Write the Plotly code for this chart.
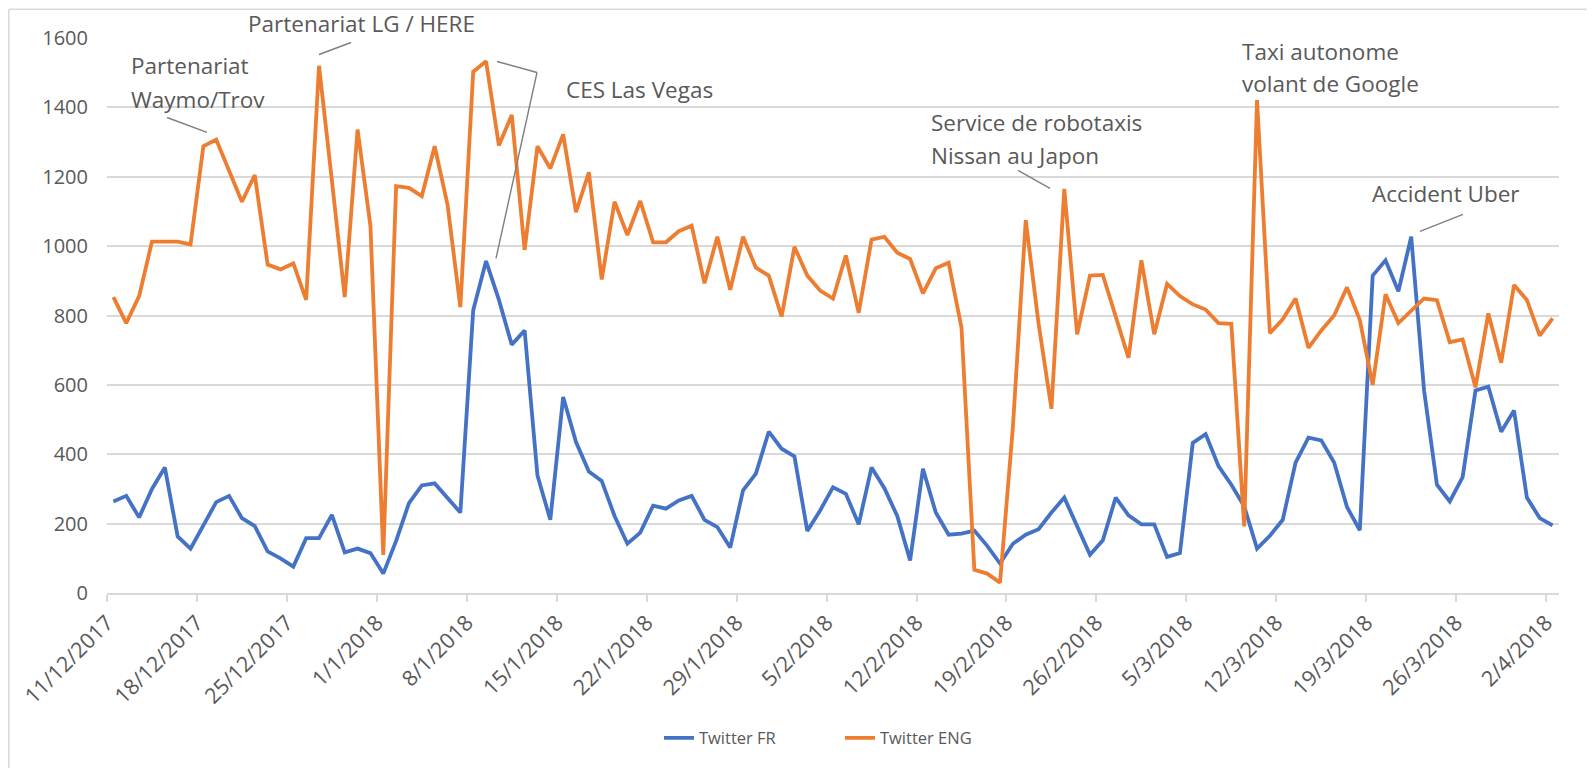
import pandas as pd
import plotly.graph_objects as go

# ---- data -------------------------------------------------------------
start_date = "2017-12-11 12:00"
n_days = 113
dates = pd.date_range(start_date, periods=n_days, freq="D")

twitter_fr = [
    264, 280, 218, 300, 362, 163, 128, 195, 262, 280,
    216, 193, 120, 100, 76, 158, 158, 225, 117, 128,
    115, 56, 150, 259, 310, 316, 272, 232, 815, 957,
    845, 716, 757, 339, 211, 565, 435, 350, 323, 222,
    142, 174, 252, 243, 267, 280, 211, 190, 131, 296,
    344, 465, 416, 394, 179, 238, 305, 286, 198, 362,
    302, 222, 94, 358, 232, 168, 171, 180, 136, 85,
    142, 168, 184, 232, 275, 195, 110, 152, 275, 224,
    198, 198, 104, 115, 433, 458, 366, 312, 250, 128,
    165, 211, 376, 448, 440, 376, 248, 181, 915, 959,
    870, 1027, 584, 312, 264, 334, 584, 595, 465, 526,
    275, 216, 195,
]

twitter_eng = [
    853, 778, 856, 1013, 1013, 1013, 1005, 1288, 1307, 1219,
    1128, 1205, 947, 933, 950, 845, 1520, 1190, 853, 1336,
    1059, 110, 1173, 1168, 1144, 1288, 1120, 824, 1503, 1533,
    1290, 1378, 989, 1288, 1224, 1322, 1098, 1213, 904, 1128,
    1032, 1130, 1011, 1011, 1043, 1059, 893, 1027, 874, 1027,
    938, 915, 797, 998, 915, 872, 849, 973, 808, 1019,
    1027, 981, 963, 864, 936, 952, 765, 67, 56, 30,
    478, 1075, 776, 531, 1165, 746, 915, 917, 797, 678,
    959, 746, 891, 856, 832, 817, 778, 776, 192, 1421,
    749, 789, 849, 707, 757, 800, 881, 787, 600, 861,
    778, 813, 849, 844, 723, 731, 593, 806, 664, 888,
    845, 742, 792,
]

tick_dates = [
    "2017-12-11", "2017-12-18", "2017-12-25", "2018-01-01", "2018-01-08",
    "2018-01-15", "2018-01-22", "2018-01-29", "2018-02-05", "2018-02-12",
    "2018-02-19", "2018-02-26", "2018-03-05", "2018-03-12", "2018-03-19",
    "2018-03-26", "2018-04-02",
]
tick_labels = [
    "11/12/2017", "18/12/2017", "25/12/2017", "1/1/2018", "8/1/2018",
    "15/1/2018", "22/1/2018", "29/1/2018", "5/2/2018", "12/2/2018",
    "19/2/2018", "26/2/2018", "5/3/2018", "12/3/2018", "19/3/2018",
    "26/3/2018", "2/4/2018",
]
y_ticks = [0, 200, 400, 600, 800, 1000, 1200, 1400, 1600]

# ---- layout geometry (page pixels; the figure sits at page offset 8,8) --
OFF = 8
WF, HF = 1579, 760
PL, PR, PT, PB = 107, 1559, 37.5, 592.7


def xp(px):
    return (px - PL) / (PR - PL)


def yp(py):
    return (PB - py) / (PB - PT)


FONT = "Open Sans"
TXT = "#595959"
GRID = "#d9d9d9"

fig = go.Figure()
fig.add_trace(go.Scatter(x=dates, y=twitter_fr, mode="lines", name="Twitter FR",
                         line=dict(color="#4472C4", width=3.8)))
fig.add_trace(go.Scatter(x=dates, y=twitter_eng, mode="lines", name="Twitter ENG",
                         line=dict(color="#ED7D31", width=3.8)))

# annotation texts (one line per annotation)
notes = [
    ("Partenariat", 130, 65),
    ("Waymo/Trov", 130, 99),
    ("Partenariat LG / HERE", 247, 23),
    ("CES Las Vegas", 565, 89.5),
    ("Service de robotaxis", 930, 122),
    ("Nissan au Japon", 930, 155),
    ("Taxi autonome", 1241, 51),
    ("volant de Google", 1241, 83),
    ("Accident Uber", 1371, 193),
]
annotations = []
for text, px, py in notes:
    annotations.append(dict(text=text, x=xp(px), y=yp(py), xref="paper", yref="paper",
                            xanchor="left", yanchor="middle", showarrow=False,
                            borderpad=0,
                            font=dict(family=FONT, size=22.5, color=TXT)))

leaders = [
    [(167, 117), (207, 132)],
    [(351, 42), (319, 54)],
    [(497, 61), (537, 72), (496, 258)],
    [(1018, 170), (1050, 188)],
    [(1420, 231), (1463, 214)],
]
shapes = []
for pts in leaders:
    for (x0, y0), (x1, y1) in zip(pts[:-1], pts[1:]):
        shapes.append(dict(type="line", xref="paper", yref="paper",
                           x0=xp(x0), y0=yp(y0), x1=xp(x1), y1=yp(y1),
                           line=dict(color="#7f7f7f", width=1.4)))
# chart-area border (left and top visible)
shapes.append(dict(type="line", xref="paper", yref="paper", x0=xp(8.8), y0=yp(8.8),
                   x1=xp(1600), y1=yp(8.8), line=dict(color=GRID, width=1.5)))
shapes.append(dict(type="line", xref="paper", yref="paper", x0=xp(8.8), y0=yp(8.8),
                   x1=xp(8.8), y1=yp(790), line=dict(color=GRID, width=1.5)))

fig.update_layout(
    width=WF, height=HF, autosize=False,
    margin=dict(l=PL - OFF, r=OFF + WF - PR, t=PT - OFF, b=OFF + HF - PB, pad=0,
                autoexpand=False),
    paper_bgcolor="white", plot_bgcolor="white",
    font=dict(family=FONT, color=TXT),
    showlegend=True,
    legend=dict(orientation="h", x=xp(659), y=yp(738), xanchor="left", yanchor="middle",
                entrywidth=136, entrywidthmode="pixels",
                font=dict(family=FONT, size=16.5, color=TXT), bgcolor="rgba(0,0,0,0)"),
    annotations=annotations,
    shapes=shapes,
)
fig.update_xaxes(
    type="date", range=["2017-12-11", "2018-04-03"], automargin=False,
    tickmode="array", tickvals=tick_dates, ticktext=tick_labels, tickangle=-45,
    tickfont=dict(family=FONT, size=21.5, color=TXT),
    showgrid=False, showline=True, linecolor=GRID, linewidth=1.5,
    ticks="outside", ticklen=7, tickcolor=GRID, tickwidth=1.5,
    zeroline=False,
)
fig.update_yaxes(
    range=[0, 1600], tickmode="array", tickvals=y_ticks, automargin=False,
    tickfont=dict(family=FONT, size=20, color=TXT),
    showgrid=True, gridcolor=GRID, gridwidth=1.5, zeroline=False,
    showline=False, ticks="", ticklabelstandoff=18,
)

fig.write_html("out.html")
